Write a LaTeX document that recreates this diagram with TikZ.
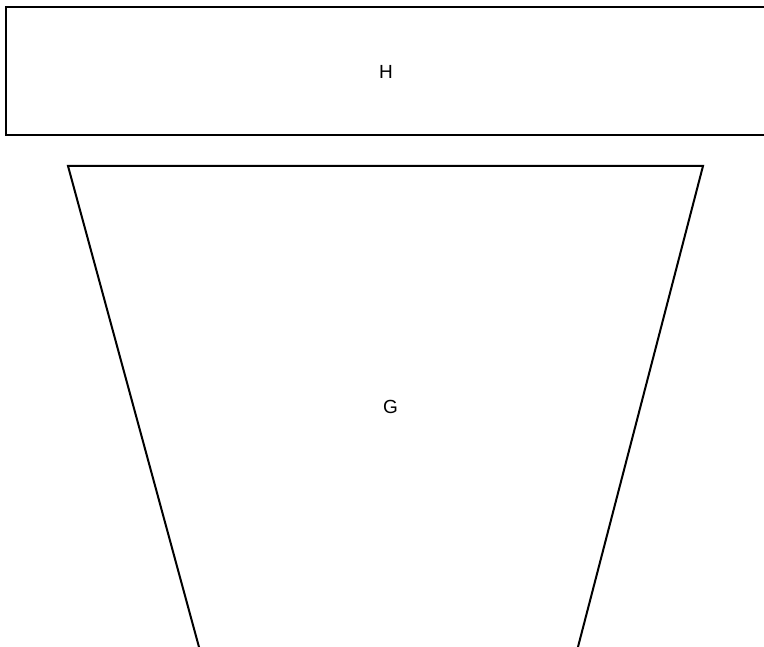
\documentclass[tikz,border=0pt]{standalone}
\usepackage{fontspec}
\setmainfont{Liberation Sans}
\tikzset{
  shapeline/.style={draw=black, line width=2pt, line join=miter},
  lbl/.style={font=\fontsize{19}{22}\selectfont, inner sep=0pt}
}
\begin{document}
\begin{tikzpicture}[x=1pt,y=-1pt]
\useasboundingbox (0,0) rectangle (764,647);
\clip (0,0) rectangle (764,647);
% H box (runs past the right edge)
\draw[shapeline] (5.5,7) rectangle (800,135);
\node[lbl] (H) at (386,71.5) {H};
% G trapezoid (runs past the bottom edge)
\draw[shapeline] (213.4,700) -- (68,166) -- (703,166) -- (564.2,700);
\node[lbl] (G) at (390.5,406.5) {G};
\end{tikzpicture}
\end{document}
